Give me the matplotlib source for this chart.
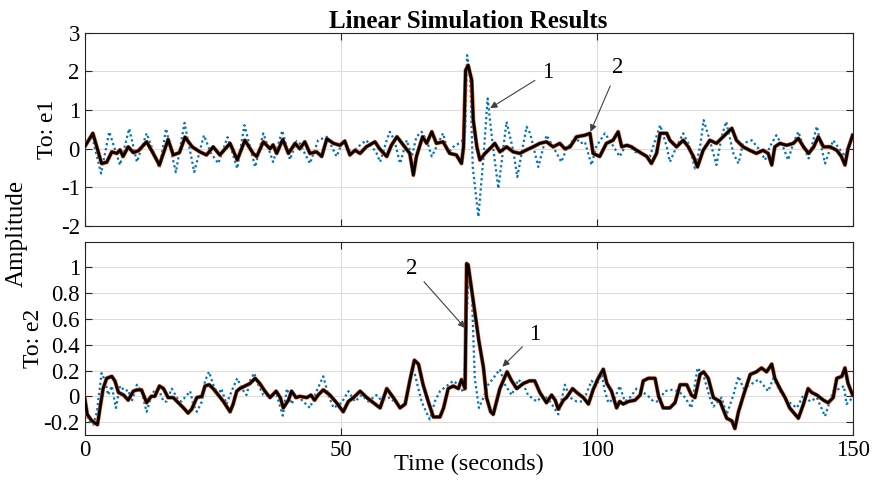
import numpy as np
import matplotlib
matplotlib.use("Agg")
import matplotlib.pyplot as plt

plt.rcParams['font.family'] = ['Liberation Serif', 'DejaVu Serif']

# (time, value)
e1_black = [
    (0, 0.05), (1.6, 0.4), (3.3, -0.38), (4.3, -0.35), (5.3, -0.08), (6.3, -0.12),
    (6.9, -0.03), (7.5, -0.2), (8.5, 0.05), (9.5, -0.1), (10.5, -0.05), (12.1, 0.18),
    (13.3, -0.1), (14.6, -0.42), (16.3, 0.24), (17.3, -0.16), (18.5, -0.1), (19.6, 0.3),
    (21, 0.05), (22.5, -0.08), (23.8, -0.16), (25.1, 0.05), (26.4, -0.16), (28.4, 0.14),
    (29.8, -0.29), (31.3, 0.22), (32.9, -0.12), (33.6, -0.2), (34.9, 0.18), (36.2, 0),
    (36.8, 0.1), (37.5, -0.12), (38.7, 0.24), (39.8, -0.12), (41.1, 0.14), (42, 0.0),
    (43, 0.18), (44, -0.12), (45.3, -0.08), (46.3, -0.2), (47.3, 0.26), (48.6, 0.14),
    (49.9, 0.09), (50.8, 0.2), (51.8, -0.16), (52.8, -0.04), (53.8, -0.12), (55, 0.05),
    (56.7, 0.18), (57.6, 0.0), (59, -0.2), (59.9, 0.09), (61, 0.31), (62.5, 0.05),
    (63.5, -0.12), (64.2, -0.68), (64.8, -0.2), (66, 0.31), (66.8, 0.14), (67.8, 0.44),
    (68.7, 0.14), (70, 0.18), (71.3, -0.12), (72.6, -0.16), (73.6, -0.38), (74, 0.05),
    (74.4, 2.03), (74.9, 2.16), (75.6, 1.77), (75.9, 0.74), (76.6, 0.05), (77.2, -0.29),
    (78.2, -0.12), (79.5, 0.05), (80.1, 0.14), (81.1, -0.08), (82.4, 0.05), (83.7, -0.08),
    (85, -0.12), (86.3, -0.03), (87.6, 0.05), (88.9, 0.14), (90.2, 0.18), (91.5, 0.05),
    (92.8, 0.14), (93.8, 0.0), (94.8, 0.05), (96.1, 0.31), (97.7, 0.35), (98.7, 0.4),
    (99.3, -0.12), (100.6, -0.2), (101.9, 0.14), (103.2, 0.22), (104.2, 0.44), (104.9, 0.05),
    (105.9, 0.09), (106.8, 0.05), (107.8, -0.04), (108.8, -0.12), (109.8, -0.2), (110.7, -0.38),
    (111.7, -0.12), (112.4, 0.4), (113.7, 0.4), (114.3, 0.22), (115.6, 0.05), (116.9, 0.22),
    (117.9, 0.05), (118.9, -0.2), (119.7, -0.47), (120.8, -0.04), (122.1, 0.22), (123.4, 0.14),
    (124.7, 0.31), (126.4, 0.53), (127.3, 0.22), (128.6, 0.05), (129.9, -0.04), (131.2, -0.12),
    (132.5, -0.04), (133.5, -0.12), (134.2, -0.42), (134.8, 0.05), (135.8, 0.14), (137.1, 0.09),
    (138.4, 0.14), (139.4, 0.27), (140.4, 0.05), (141.4, -0.12), (142.4, 0.05), (143.3, 0.31),
    (144.3, 0.05), (145.6, 0.05), (146.9, -0.04), (147.8, -0.2), (148.5, -0.42), (149.1, 0.0),
    (150, 0.35),
]

e1_blue = [
    (0, 0.05), (1.4, 0.35), (3.2, -0.64), (4.8, 0.44), (6.9, -0.42), (8.7, 0.52),
    (10.2, -0.34), (12.1, 0.4), (14.6, -0.51), (15.9, 0.52), (17.8, -0.61), (19.5, 0.67),
    (21.4, -0.6), (23.3, 0.35), (24.6, -0.1), (26.1, -0.38), (27.9, 0.3), (29.8, -0.51),
    (31.2, 0.61), (33.3, -0.47), (34.9, 0.4), (36.8, -0.34), (38.6, 0.47), (40.1, -0.28),
    (41.4, 0.2), (42, 0.14), (44, -0.38), (45.6, 0.22), (47.3, 0.31), (49.2, -0.2),
    (50.5, 0.22), (52.1, -0.12), (53.4, 0.05), (55, 0.22), (56.9, -0.08), (57.7, -0.34),
    (59, 0.22), (59.6, 0.44), (60.5, 0.22), (61.6, -0.38), (62.9, 0.22), (63.9, -0.2),
    (64.8, 0.31), (65.8, 0.44), (66.8, 0.22), (67.8, -0.2), (68.7, 0.05), (70, 0.4),
    (71, -0.12), (72, 0.05), (73.6, 0.18), (74.3, 0.4), (74.7, 2.42), (75.3, 1.86),
    (75.8, -0.47), (76.9, -1.76), (77.9, -0.21), (78.7, 1.3), (79.6, 0.22), (80.8, -1.03),
    (82.4, 0.7), (83.7, -0.04), (84.5, -0.73), (86.3, 0.57), (87, 0.4), (88.6, -0.47),
    (90.2, 0.35), (91.5, 0.05), (93.1, -0.34), (94, -0.04), (95.8, 0.31), (96.8, 0.14),
    (97.7, 0.18), (99, -0.42), (99.9, 0.05), (101.6, 0.4), (102.9, 0.14), (104.5, -0.2),
    (105.9, 0.14), (107.5, -0.08), (108.8, -0.12), (110.4, -0.2), (112.4, 0.61), (113.7, 0.05),
    (114.3, -0.34), (115.6, 0.05), (116.9, 0.4), (117.9, 0.14), (119.2, -0.51), (120.2, 0.05),
    (120.9, 0.74), (122.1, 0.22), (123.4, -0.42), (124.4, 0.31), (125.3, 0.7), (126.7, -0.12),
    (127.7, -0.38), (128.6, 0.14), (130.3, 0.22), (131.9, -0.04), (132.9, -0.29), (133.8, 0.05),
    (135.1, 0.35), (136.4, 0.05), (137.4, -0.29), (138.4, 0.14), (139.4, 0.44), (140.4, 0.05),
    (141.4, -0.25), (143, 0.58), (144.6, -0.38), (146.2, 0.22), (146.9, 0.09), (148.5, -0.2),
    (150, 0.4),
]

e2_black = [
    (0, -0.01), (0.5, -0.14), (1.4, -0.19), (2.5, -0.22), (3, -0.09), (3.6, 0.06),
    (4.3, 0.14), (5.3, 0.155), (5.9, 0.12), (6.6, 0.03), (7.6, 0.01), (8.5, -0.03),
    (9.5, 0.04), (10.2, 0.05), (11.1, 0.05), (12.1, -0.05), (13, 0.0), (13.7, 0.0),
    (14.6, 0.08), (15.4, 0.06), (16.3, -0.01), (17.3, -0.01), (18.3, -0.05), (19.3, -0.09),
    (20.2, -0.13), (20.9, -0.1), (21.9, -0.01), (22.9, 0.0), (23.5, 0.08), (24.3, 0.09),
    (25.1, 0.06), (26.1, 0.01), (27.1, -0.04), (28.4, -0.12), (29, -0.06), (29.7, 0.04),
    (30.3, 0.06), (31.3, 0.08), (32.3, 0.1), (33.3, 0.14), (34.2, 0.1), (35.2, 0.04),
    (36.2, -0.01), (37.4, 0.04), (38.2, -0.01), (38.8, -0.09), (39.8, -0.03), (40.4, 0.04),
    (41.3, -0.01), (42, 0.0), (43.4, -0.01), (44.2, 0.01), (44.9, -0.03), (45.6, 0.01),
    (46.6, 0.05), (47.9, 0.01), (49.2, -0.05), (50.5, -0.12), (51.5, -0.04), (52.5, -0.01),
    (53.8, 0.04), (55.1, -0.01), (56.4, -0.05), (57.7, -0.09), (59, 0.06), (60.3, -0.01),
    (61.6, -0.09), (62.6, -0.06), (63.5, 0.12), (64.4, 0.28), (65.2, 0.25), (66.1, 0.09),
    (67.1, -0.04), (68.1, -0.16), (69.4, -0.16), (70.1, -0.09), (71, 0.06), (72, 0.08),
    (73, 0.06), (73.6, 0.13), (74.3, 0.06), (74.6, 1.03), (74.9, 1.02), (75.9, 0.74),
    (77, 0.43), (77.9, 0.22), (78.5, -0.01), (79.3, -0.12), (79.8, -0.14), (81.1, 0.06),
    (82.5, 0.19), (83.4, 0.12), (84.4, 0.06), (85.7, 0.1), (86.9, 0.12), (87.9, 0.12),
    (88.9, 0.03), (90.2, -0.05), (91.2, 0.01), (91.9, -0.03), (92.5, -0.1), (93.5, -0.03),
    (94.1, -0.01), (95.3, 0.06), (96.1, 0.03), (97.4, -0.01), (98.4, -0.06), (99.3, 0.05),
    (100.3, 0.14), (101.3, 0.21), (102, 0.1), (102.9, 0.04), (103.9, -0.09), (104.5, -0.04),
    (105.2, -0.06), (106.2, -0.04), (107.5, -0.03), (108.5, 0.01), (109.1, 0.12), (110.1, 0.14),
    (111.4, 0.14), (112.1, 0.0), (113, -0.09), (114.3, -0.09), (115.3, -0.05), (116.3, 0.09),
    (117.6, 0.09), (118.5, 0.01), (119.2, -0.01), (120.2, 0.17), (120.9, 0.19), (121.8, 0.14),
    (122.8, -0.01), (124.1, -0.04), (125.4, -0.17), (126.4, -0.19), (127, -0.25), (127.7, -0.12),
    (128.7, 0.01), (130, 0.17), (131.2, 0.19), (132.2, 0.22), (133.2, 0.19), (134.2, 0.25),
    (134.8, 0.14), (135.8, 0.06), (136.8, -0.01), (137.7, -0.09), (139.4, -0.17), (140.4, -0.06),
    (141.3, 0.06), (142, 0.03), (143, 0.01), (144.3, -0.03), (145.2, -0.05), (146.2, -0.01),
    (146.9, 0.14), (147.9, 0.155), (148.5, 0.22), (149.1, 0.1), (150, 0.01),
]

e2_blue = [
    (0, 0.0), (0.7, -0.19), (1.7, -0.22), (2.4, -0.12), (3.3, 0.18), (4, 0.12),
    (4.6, 0.01), (5.3, 0.08), (6.1, -0.09), (6.9, 0.08), (7.9, 0.04), (8.5, 0.05),
    (9.2, -0.04), (10.2, 0.09), (11.1, 0.04), (12.1, -0.12), (13.1, 0.01), (13.7, 0.05),
    (14.6, 0.04), (15.4, -0.04), (16, -0.04), (17, 0.06), (18.3, -0.03), (18.9, -0.04),
    (20.6, 0.04), (21.2, -0.06), (21.9, -0.12), (22.9, -0.04), (23.5, 0.12), (24.3, 0.19),
    (25.1, 0.09), (26.1, 0.01), (26.7, 0.06), (27.7, -0.06), (28.7, 0.04), (29.8, 0.14),
    (30.7, 0.06), (31.6, 0.01), (32.3, 0.12), (33.1, 0.18), (33.9, 0.09), (34.9, 0.01),
    (36.2, 0.0), (37.5, 0.01), (38.7, -0.15), (39.5, 0.06), (40.4, -0.06), (41.4, 0.01),
    (42.7, -0.04), (44, -0.09), (45.3, 0.04), (46.6, 0.155), (47.6, 0.01), (48.6, -0.09),
    (50.2, -0.05), (51.5, 0.04), (52.8, -0.04), (54.1, 0.01), (55.4, -0.04), (57, 0.01),
    (57.9, -0.03), (59.6, -0.01), (61, -0.06), (62.2, -0.09), (63.2, 0.04), (63.9, 0.22),
    (64.5, 0.17), (65.8, -0.04), (67.4, -0.18), (68.4, -0.04), (69.4, 0.04), (70.7, 0.08),
    (72, 0.12), (73, 0.09), (74, 0.03), (74.9, 0.89), (75.6, 0.81), (76.2, 0.14),
    (77, -0.09), (77.9, -0.01), (78.8, 0.09), (79.8, 0.14), (81.1, 0.21), (82.1, 0.09),
    (83.4, 0.01), (84.7, 0.13), (85.7, 0.09), (86.6, 0.01), (88.3, -0.04), (89.6, 0.01),
    (90.9, -0.04), (92.5, -0.14), (93.8, 0.09), (94.8, -0.01), (96.1, -0.04), (97.4, -0.04),
    (99, 0.12), (99.9, 0.08), (101, 0.17), (101.6, 0.04), (102.3, -0.05), (103.6, -0.01),
    (104.5, 0.08), (105.5, -0.04), (106.5, -0.01), (107.8, 0.06), (108.8, 0.04), (110.1, 0.0),
    (111.1, -0.04), (112.1, -0.04), (113.3, 0.04), (114.6, 0.05), (116, 0.04), (117.3, -0.01),
    (118.5, -0.09), (119.7, 0.22), (120.8, 0.17), (122.1, -0.01), (122.8, -0.08), (124.4, -0.01),
    (125.4, -0.14), (126.7, 0.01), (127.7, 0.155), (128.7, 0.06), (130, 0.09), (131.6, 0.13),
    (132.5, 0.09), (133.5, 0.04), (134.5, 0.14), (135.8, 0.04), (137.4, -0.04), (139.1, -0.09),
    (140.4, 0.01), (141.7, -0.04), (143, -0.01), (144.6, -0.155), (146.2, 0.04), (147.5, 0.06),
    (148.3, 0.08), (148.8, -0.06), (150, -0.01),
]

# the red trace sits right under the black one
e1_red = list(e1_black)
e2_red = list(e2_black)

blue = '#0072BD'
red = '#D95319'
axis_col = '#262626'

fig = plt.figure(figsize=(8.72, 4.8), dpi=100)
ax1 = fig.add_axes([0.0971, 0.529, 0.8807, 0.4027])
ax2 = fig.add_axes([0.0971, 0.0938, 0.8807, 0.4027])


def draw(ax, blue_pts, red_pts, black_pts):
    b = np.array(blue_pts)
    r = np.array(red_pts)
    k = np.array(black_pts)
    ax.plot(b[:, 0], b[:, 1], color=blue, lw=1.6, dashes=(1.0, 1.3), zorder=3)
    ax.plot(r[:, 0], r[:, 1], '-', color=red, lw=2.9, zorder=4)
    ax.plot(k[:, 0], k[:, 1], '-', color='black', lw=2.0, zorder=5)
    ax.set_xlim(0, 150)
    ax.set_xticks([0, 50, 100, 150])
    ax.grid(True, color='#dcdcdc', lw=0.8)
    ax.tick_params(direction='in', top=True, right=True, length=5,
                   labelsize=16.5, color=axis_col, labelcolor='black')
    for s in ax.spines.values():
        s.set_color(axis_col)
        s.set_linewidth(0.8)


draw(ax1, e1_blue, e1_red, e1_black)
ax1.set_ylim(-2, 3)
ax1.set_yticks([-2, -1, 0, 1, 2, 3])
ax1.set_yticklabels(['-2', '-1', '0', '1', '2', '3'])
ax1.tick_params(labelbottom=False)
ax1.set_ylabel('To: e1', fontsize=17, labelpad=2)
ax1.set_title('Linear Simulation Results', fontsize=18, fontweight='bold', pad=1)

draw(ax2, e2_blue, e2_red, e2_black)
ax2.set_ylim(-0.3, 1.2)
ax2.set_yticks([-0.2, 0, 0.2, 0.4, 0.6, 0.8, 1])
ax2.set_yticklabels(['-0.2', '0', '0.2', '0.4', '0.6', '0.8', '1'])
ax2.set_ylabel('To: e2', fontsize=17, labelpad=0)
ax2.set_xlabel('Time (seconds)', fontsize=17.5, labelpad=-5)

fig.text(0.019, 0.514, 'Amplitude', rotation=90, fontsize=18, ha='center', va='center')

arrow = dict(arrowstyle='-|>', color='#404040', lw=0.8, mutation_scale=10,
             shrinkA=4, shrinkB=0)
ax1.annotate('1', xy=(79.2, 1.05), xytext=(90.5, 1.98), fontsize=16.5,
             ha='center', va='center', arrowprops=arrow, zorder=6)
ax1.annotate('2', xy=(98.8, 0.44), xytext=(104.2, 2.1), fontsize=16.5,
             ha='center', va='center', arrowprops=arrow, zorder=6)
ax2.annotate('2', xy=(74.3, 0.53), xytext=(63.9, 0.995), fontsize=16.5,
             ha='center', va='center', arrowprops=arrow, zorder=6)
ax2.annotate('1', xy=(81.6, 0.23), xytext=(87.9, 0.48), fontsize=16.5,
             ha='center', va='center', arrowprops=arrow, zorder=6)

fig.savefig('out.png', dpi=100)
